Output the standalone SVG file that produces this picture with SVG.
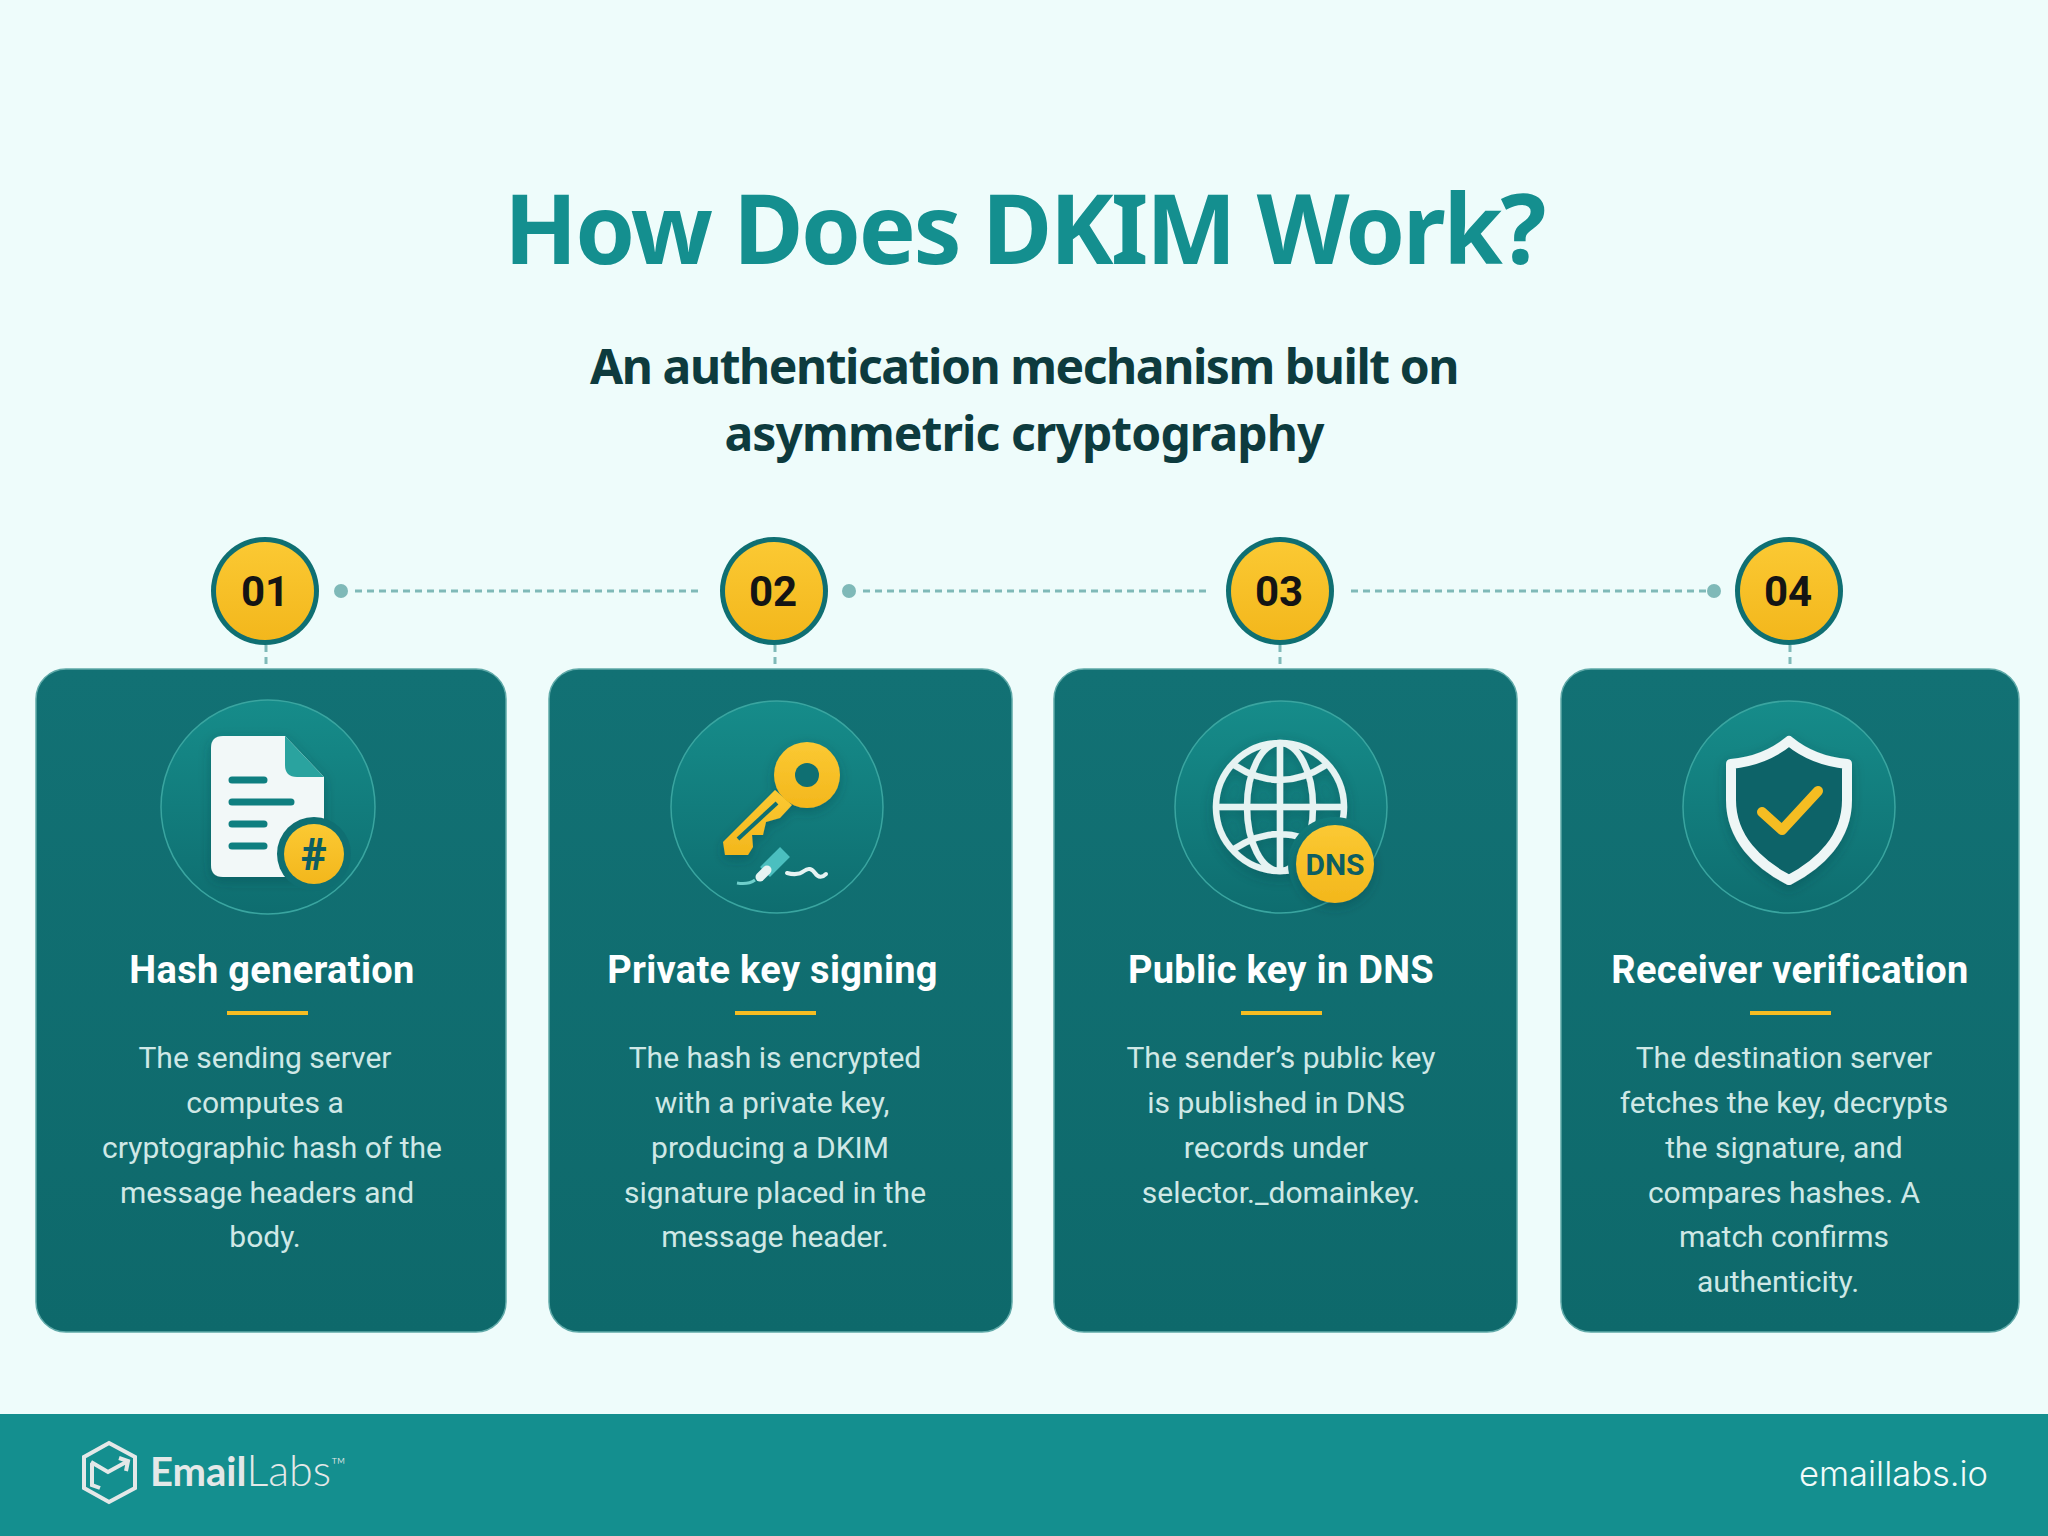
<svg xmlns="http://www.w3.org/2000/svg" width="2048" height="1536" viewBox="0 0 2048 1536">
<style>
.t1{font-family:"Noto Sans",sans-serif;font-weight:700;font-size:96px;letter-spacing:-2.4px;fill:#148f8f;text-anchor:middle}
.t2{font-family:"Noto Sans",sans-serif;font-weight:700;font-size:48px;letter-spacing:-1.45px;fill:#0d3b3e;text-anchor:middle}
.h{font-family:Roboto,sans-serif;font-weight:700;font-size:38px;letter-spacing:.3px;fill:#fff;text-anchor:middle}
.b{font-family:Roboto,sans-serif;font-weight:400;font-size:30px;fill:#cfe8e6;text-anchor:middle}
.n{font-family:Roboto,sans-serif;font-weight:700;font-size:42px;fill:#141414;text-anchor:middle}
.bar{fill:#f5bd22}
.card{fill:url(#cg);stroke:#5fa9a8;stroke-width:1.5}
.ic{fill:url(#icg);stroke:#3aa5a0;stroke-width:1.5}
.ring{fill:#0f6f72}
.yl{fill:url(#yg)}
.dash{stroke:#7fb9b8;stroke-width:3;stroke-dasharray:7 5;fill:none}
.dot{fill:#7fb9b8}
.ln{stroke:#0f7f80;stroke-width:7;stroke-linecap:round}
.g{stroke:#e6f3f2;stroke-width:6.500;fill:none}
</style>
<defs>
<linearGradient id="cg" x1="0" y1="0" x2="0" y2="1"><stop offset="0" stop-color="#127174"/><stop offset="1" stop-color="#0e696b"/></linearGradient>
<linearGradient id="icg" x1="0" y1="0" x2="0" y2="1"><stop offset="0" stop-color="#168c8a"/><stop offset="1" stop-color="#0e6d6f"/></linearGradient>
<linearGradient id="yg" x1="0" y1="0" x2="0" y2="1"><stop offset="0" stop-color="#fbc933"/><stop offset="1" stop-color="#f3b71c"/></linearGradient>
<filter id="sh" x="-30%" y="-30%" width="160%" height="160%"><feDropShadow dx="0" dy="4" stdDeviation="6" flood-color="#063c40" flood-opacity=".35"/></filter>
<mask id="gm" maskUnits="userSpaceOnUse" x="1190" y="720" width="200" height="180"><rect x="1190" y="720" width="200" height="180" fill="#fff"/><circle cx="1335" cy="864" r="47" fill="#000"/></mask>
</defs>
<rect id="bg" width="2048" height="1536" fill="#eefcfb"/>
<text class="t1" x="1024" y="264">How Does DKIM Work?</text>
<text class="t2" x="1024" y="384">An authentication mechanism built on</text>
<text class="t2" x="1024" y="451" style="letter-spacing:-.9px">asymmetric cryptography</text>
<g id="connectors">
<circle class="dot" cx="341" cy="591" r="7"/><path class="dash" d="M355 591H703"/>
<circle class="dot" cx="849" cy="591" r="7"/><path class="dash" d="M863 591H1210"/>
<path class="dash" d="M1351 591H1706"/><circle class="dot" cx="1714" cy="591" r="7"/>
<path class="dash" d="M266 645V669M775 645V669M1280 645V669M1790 645V669" stroke="#4f9a9a"/>
</g>
<g id="card1">
<rect class="card" x="36" y="669" width="470" height="663" rx="30"/>
<circle class="ring" cx="265" cy="591" r="54"/><circle class="yl" cx="265" cy="591" r="49"/>
<text class="n" x="265" y="606">01</text>
<circle class="ic" cx="268" cy="807" r="107"/>
<path d="M223 736H285L324 777V865Q324 877 312 877H223Q211 877 211 865V748Q211 736 223 736Z" fill="#f2f8f8" filter="url(#sh)"/>
<path d="M285 736L324 777H297Q285 777 285 765Z" fill="#2aa39f"/>
<path class="ln" d="M232 780H264M232 802H291M232 824H264M232 846H264"/>
<circle cx="314" cy="854" r="37" fill="#0f6f72"/><circle class="yl" cx="314" cy="854" r="30"/>
<text x="314" y="870" font-family="Roboto,sans-serif" font-weight="900" font-size="44" fill="#0d5e62" text-anchor="middle">#</text>
<text class="h" x="272" y="983">Hash generation</text>
<rect class="bar" x="227" y="1011" width="81" height="4"/>
<text class="b" x="265" y="1067.500">The sending server</text>
<text class="b" x="265" y="1112.500">computes a</text>
<text class="b" x="272" y="1157.500">cryptographic hash of the</text>
<text class="b" x="267" y="1202.500">message headers and</text>
<text class="b" x="265" y="1246.500">body.</text>
</g>
<g id="card2">
<rect class="card" x="549" y="669" width="463" height="663" rx="30"/>
<circle class="ring" cx="774" cy="591" r="54"/><circle class="yl" cx="774" cy="591" r="49"/>
<text class="n" x="773" y="606">02</text>
<circle class="ic" cx="777" cy="807" r="106"/>
<g filter="url(#sh)">
<path d="M775 790L723 842L725 855H748L753 847L752 835H763L766 822L780 818L792 805Z" class="yl"/>
<circle class="yl" cx="807" cy="775" r="33"/>
</g>
<circle cx="807" cy="775" r="12" fill="#0f6f72"/>
<path d="M738 839L777 803" stroke="#0f6f72" stroke-width="4"/>
<path d="M765 872L785 852" stroke="#4bbfbf" stroke-width="14"/>
<path d="M760 877L767 870" stroke="#e6f3f2" stroke-width="9" stroke-linecap="round"/>
<path d="M737 883Q748 885 755 880" stroke="#6fcfcb" stroke-width="3" fill="none"/>
<path d="M787 873Q798 876 804 871T815 873T826 874" stroke="#e6f3f2" stroke-width="4" fill="none" stroke-linecap="round"/>
<text class="h" x="772.500" y="983">Private key signing</text>
<rect class="bar" x="735" y="1011" width="81" height="4"/>
<text class="b" x="775" y="1067.500">The hash is encrypted</text>
<text class="b" x="772" y="1112.500">with a private key,</text>
<text class="b" x="770" y="1157.500">producing a DKIM</text>
<text class="b" x="775" y="1202.500">signature placed in the</text>
<text class="b" x="775" y="1246.500">message header.</text>
</g>
<g id="card3">
<rect class="card" x="1054" y="669" width="463" height="663" rx="30"/>
<circle class="ring" cx="1280" cy="591" r="54"/><circle class="yl" cx="1280" cy="591" r="49"/>
<text class="n" x="1279" y="606">03</text>
<circle class="ic" cx="1281" cy="807" r="106"/>
<g mask="url(#gm)" filter="url(#sh)">
<circle class="g" cx="1280" cy="807" r="64"/>
<ellipse class="g" cx="1280" cy="807" rx="33" ry="64"/>
<path class="g" d="M1280 743V871M1216 807H1344M1234 765Q1280 795 1326 765M1234 849Q1280 819 1326 849"/>
</g>
<circle class="yl" cx="1335" cy="864" r="39" filter="url(#sh)"/>
<text x="1335" y="875" font-family="Roboto,sans-serif" font-weight="700" font-size="30" fill="#0d5e62" text-anchor="middle">DNS</text>
<text class="h" x="1281" y="983">Public key in DNS</text>
<rect class="bar" x="1241" y="1011" width="81" height="4"/>
<text class="b" x="1281" y="1067.500">The sender’s public key</text>
<text class="b" x="1276" y="1112.500">is published in DNS</text>
<text class="b" x="1276" y="1157.500">records under</text>
<text class="b" x="1281" y="1202.500">selector._domainkey.</text>
</g>
<g id="card4">
<rect class="card" x="1561" y="669" width="458" height="663" rx="30"/>
<circle class="ring" cx="1789" cy="591" r="54"/><circle class="yl" cx="1789" cy="591" r="49"/>
<text class="n" x="1788" y="606">04</text>
<circle class="ic" cx="1789" cy="807" r="106"/>
<path d="M1789 741C1772 755 1752 762 1731 764V800C1731 838 1758 864 1789 880C1820 864 1847 838 1847 800V764C1826 762 1806 755 1789 741Z" fill="#0d6468" stroke="#eef6f6" stroke-width="10" stroke-linejoin="round" filter="url(#sh)"/>
<path d="M1762 812L1782 830L1818 791" fill="none" stroke="#f5bd22" stroke-width="10" stroke-linecap="round" stroke-linejoin="round"/>
<text class="h" x="1790" y="983">Receiver verification</text>
<rect class="bar" x="1750" y="1011" width="81" height="4"/>
<text class="b" x="1784" y="1067.500">The destination server</text>
<text class="b" x="1784" y="1112.500">fetches the key, decrypts</text>
<text class="b" x="1784" y="1157.500">the signature, and</text>
<text class="b" x="1784" y="1202.500">compares hashes. A</text>
<text class="b" x="1784" y="1246.500">match confirms</text>
<text class="b" x="1778" y="1291.500">authenticity.</text>
</g>
<g id="footer">
<rect x="0" y="1414" width="2048" height="122" fill="#148f8f"/>
<path d="M109 1443L135 1457V1488L109 1502L84 1488V1457Z" fill="none" stroke="#e4e8e8" stroke-width="4"/>
<path d="M91 1462L108 1472L128 1461M119 1458L128 1461L126 1471M92 1463V1485L100 1488" fill="none" stroke="#e4e8e8" stroke-width="4"/>
<text x="150" y="1486" font-family="Lato,sans-serif" font-size="40" fill="#e4e8e8"><tspan font-weight="700">Email</tspan><tspan font-weight="300" font-size="43">Labs</tspan></text>
<text x="331" y="1472" font-family="Lato,sans-serif" font-weight="300" font-size="20" fill="#e4e8e8">™</text>
<text x="1988" y="1486" font-family="Inter,sans-serif" font-weight="300" font-size="34.500" fill="#f2fbfa" text-anchor="end">emaillabs.io</text>
</g>
</svg>
